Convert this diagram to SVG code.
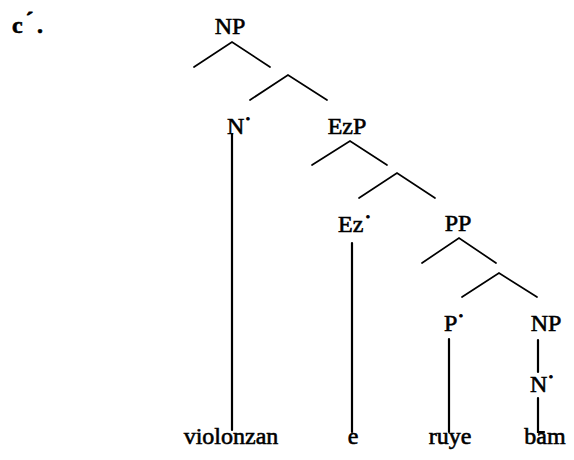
<svg xmlns="http://www.w3.org/2000/svg" width="574" height="460" viewBox="0 0 574 460">
<style>
text{font-family:"Liberation Serif","Times New Roman",serif;font-size:24px;fill:#000;stroke:#000;stroke-width:0.6}
.d{font-size:22px;stroke-width:1}
.e line,.e polyline{stroke:#000;fill:none;stroke-width:1.7;stroke-linecap:round;stroke-linejoin:miter}
.e .v{stroke-width:2.2}
</style>
<rect width="574" height="460" fill="#fff"/>
<text x="12" y="33" font-family="Liberation Serif, serif" font-weight="bold" font-size="28">c<tspan class="d" dx="3" dy="-6">´</tspan><tspan dx="4" dy="6">.</tspan></text>
<g id="np1"><text x="230" y="34" text-anchor="middle" font-family="Liberation Serif, serif">NP</text></g>
<g id="n1"><text x="227" y="134" font-family="Liberation Serif, serif">N<tspan class="d" dx="0" dy="-8">·</tspan></text></g>
<g id="ezp"><text x="347" y="134" text-anchor="middle" font-family="Liberation Serif, serif">EzP</text></g>
<g id="ez1"><text x="338" y="232" font-family="Liberation Serif, serif">Ez<tspan class="d" dx="1" dy="-8">·</tspan></text></g>
<g id="pp"><text x="458" y="231" text-anchor="middle" font-family="Liberation Serif, serif">PP</text></g>
<g id="p1"><text x="444" y="331" font-family="Liberation Serif, serif">P<tspan class="d" dx="0" dy="-8">·</tspan></text></g>
<g id="np2"><text x="546" y="331" text-anchor="middle" font-family="Liberation Serif, serif">NP</text></g>
<g id="n2"><text x="530" y="392" font-family="Liberation Serif, serif">N<tspan class="d" dx="0" dy="-8">·</tspan></text></g>
<g id="w1"><text x="231" y="444" text-anchor="middle" font-family="Liberation Serif, serif">violonzan</text></g>
<g id="w2"><text x="353" y="444" text-anchor="middle" font-family="Liberation Serif, serif">e</text></g>
<g id="w3"><text x="450" y="444" text-anchor="middle" font-family="Liberation Serif, serif">ruye</text></g>
<g id="w4"><text x="545" y="444" text-anchor="middle" font-family="Liberation Serif, serif">bam</text></g>
<g id="connectors" class="e">
<polyline points="194,67 232,42 270,67"/>
<polyline points="250,100 288,75 327,100"/>
<polyline points="312,165 350,141 387,165"/>
<polyline points="359,198 397,173 435,198"/>
<polyline points="422,263 459,238 496,263"/>
<polyline points="462,297 499,273 537,297"/>
<line class="v" x1="232" y1="134" x2="232" y2="430"/>
<line class="v" x1="352" y1="243" x2="352" y2="432"/>
<line class="v" x1="449" y1="339" x2="449" y2="432"/>
<line class="v" x1="538" y1="340" x2="538" y2="372"/>
<polyline class="v" points="538,398 538,432 544,432"/>
</g>
</svg>
